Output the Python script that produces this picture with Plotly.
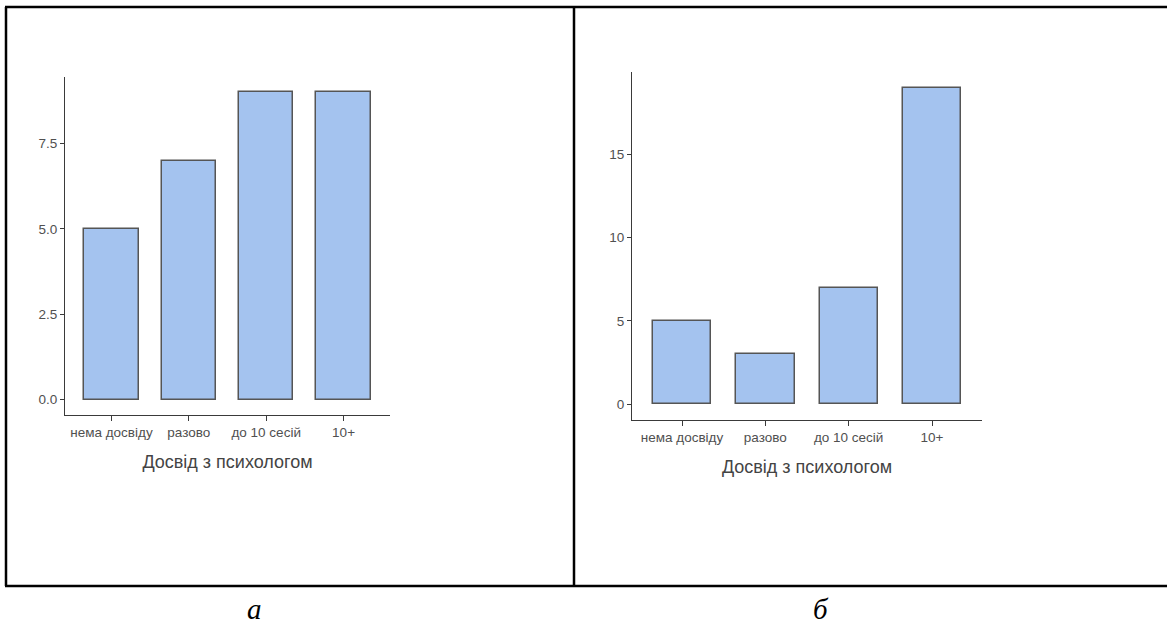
import plotly.graph_objects as go

# Категорії досвіду роботи з психологом
categories = ["нема досвіду", "разово", "до 10 сесій", "10+"]
counts_a = [5, 7, 9, 9]
counts_b = [5, 3, 7, 19]
ticks_a = [0.0, 2.5, 5.0, 7.5]
ticks_a_text = ["0.0", "2.5", "5.0", "7.5"]
ticks_b = [0, 5, 10, 15]
ticks_b_text = ["0", "5", "10", "15"]
axis_title = "Досвід з психологом"
panel_labels = ["а", "б"]

W, H = 1167, 626


def px_x(v):
    return v / W


def px_y(v):
    return 1 - v / H


BAR_FILL = "#A4C3EF"
BAR_LINE = "#555555"
AXIS_COLOR = "#3A3A3A"
TICK_FONT = dict(family="Liberation Sans, Arial, sans-serif", size=13.5, color="#505050")
TITLE_FONT = dict(family="Liberation Sans, Arial, sans-serif", size=18, color="#444444")

fig = go.Figure()
positions = [1, 2, 3, 4]

fig.add_trace(go.Bar(
    x=positions, y=counts_a, width=0.7,
    marker=dict(color=BAR_FILL, line=dict(color=BAR_LINE, width=1.5)),
    xaxis="x", yaxis="y", showlegend=False,
))
fig.add_trace(go.Bar(
    x=positions, y=counts_b, width=0.7,
    marker=dict(color=BAR_FILL, line=dict(color=BAR_LINE, width=1.5)),
    xaxis="x2", yaxis="y2", showlegend=False,
))


def xaxis_cfg(domain, anchor):
    return dict(
        domain=domain, anchor=anchor, range=[0.4, 4.6],
        tickmode="array", tickvals=positions, ticktext=categories,
        showline=True, linecolor=AXIS_COLOR, linewidth=1,
        ticks="outside", ticklen=5, tickcolor=AXIS_COLOR, tickwidth=1,
        showgrid=False, zeroline=False, tickfont=TICK_FONT,
        title=dict(text=axis_title, font=TITLE_FONT, standoff=16),
        fixedrange=True,
    )


def yaxis_cfg(domain, anchor, rng, vals, texts):
    return dict(
        domain=domain, anchor=anchor, range=rng,
        tickmode="array", tickvals=vals, ticktext=texts,
        showline=True, linecolor=AXIS_COLOR, linewidth=1,
        ticks="outside", ticklen=4, tickcolor=AXIS_COLOR, tickwidth=1,
        showgrid=False, zeroline=False, tickfont=TICK_FONT,
        fixedrange=True,
    )


max_a = max(counts_a)
max_b = max(counts_b)

fig.update_layout(
    width=W, height=H,
    margin=dict(l=0, r=0, t=0, b=0),
    paper_bgcolor="white", plot_bgcolor="white",
    bargap=0,
    xaxis=xaxis_cfg([px_x(65), px_x(390)], "y"),
    yaxis=yaxis_cfg([px_y(415), px_y(77)], "x",
                    [-0.05 * max_a, 1.05 * max_a], ticks_a, ticks_a_text),
    xaxis2=xaxis_cfg([px_x(632), px_x(982)], "y2"),
    yaxis2=yaxis_cfg([px_y(420), px_y(72)], "x2",
                     [-0.05 * max_b, 1.05 * max_b], ticks_b, ticks_b_text),
)

# Рамка таблиці навколо двох графіків
frame = dict(type="line", xref="paper", yref="paper", line=dict(color="black", width=2.5))
fig.add_shape(**frame, x0=px_x(5), x1=1, y0=px_y(7), y1=px_y(7))
fig.add_shape(**frame, x0=px_x(5), x1=1, y0=px_y(586), y1=px_y(586))
fig.add_shape(**frame, x0=px_x(6), x1=px_x(6), y0=px_y(7), y1=px_y(586))
fig.add_shape(**frame, x0=px_x(574), x1=px_x(574), y0=px_y(7), y1=px_y(586))

# Підписи панелей
for label, cx in zip(panel_labels, [254, 821]):
    fig.add_annotation(
        x=px_x(cx), y=0, xref="paper", yref="paper",
        text=f"<i>{label}</i>", showarrow=False,
        xanchor="center", yanchor="bottom", borderpad=0,
        font=dict(family="Liberation Serif, Times New Roman, serif", size=29, color="black"),
    )

fig.write_html("out.html")
